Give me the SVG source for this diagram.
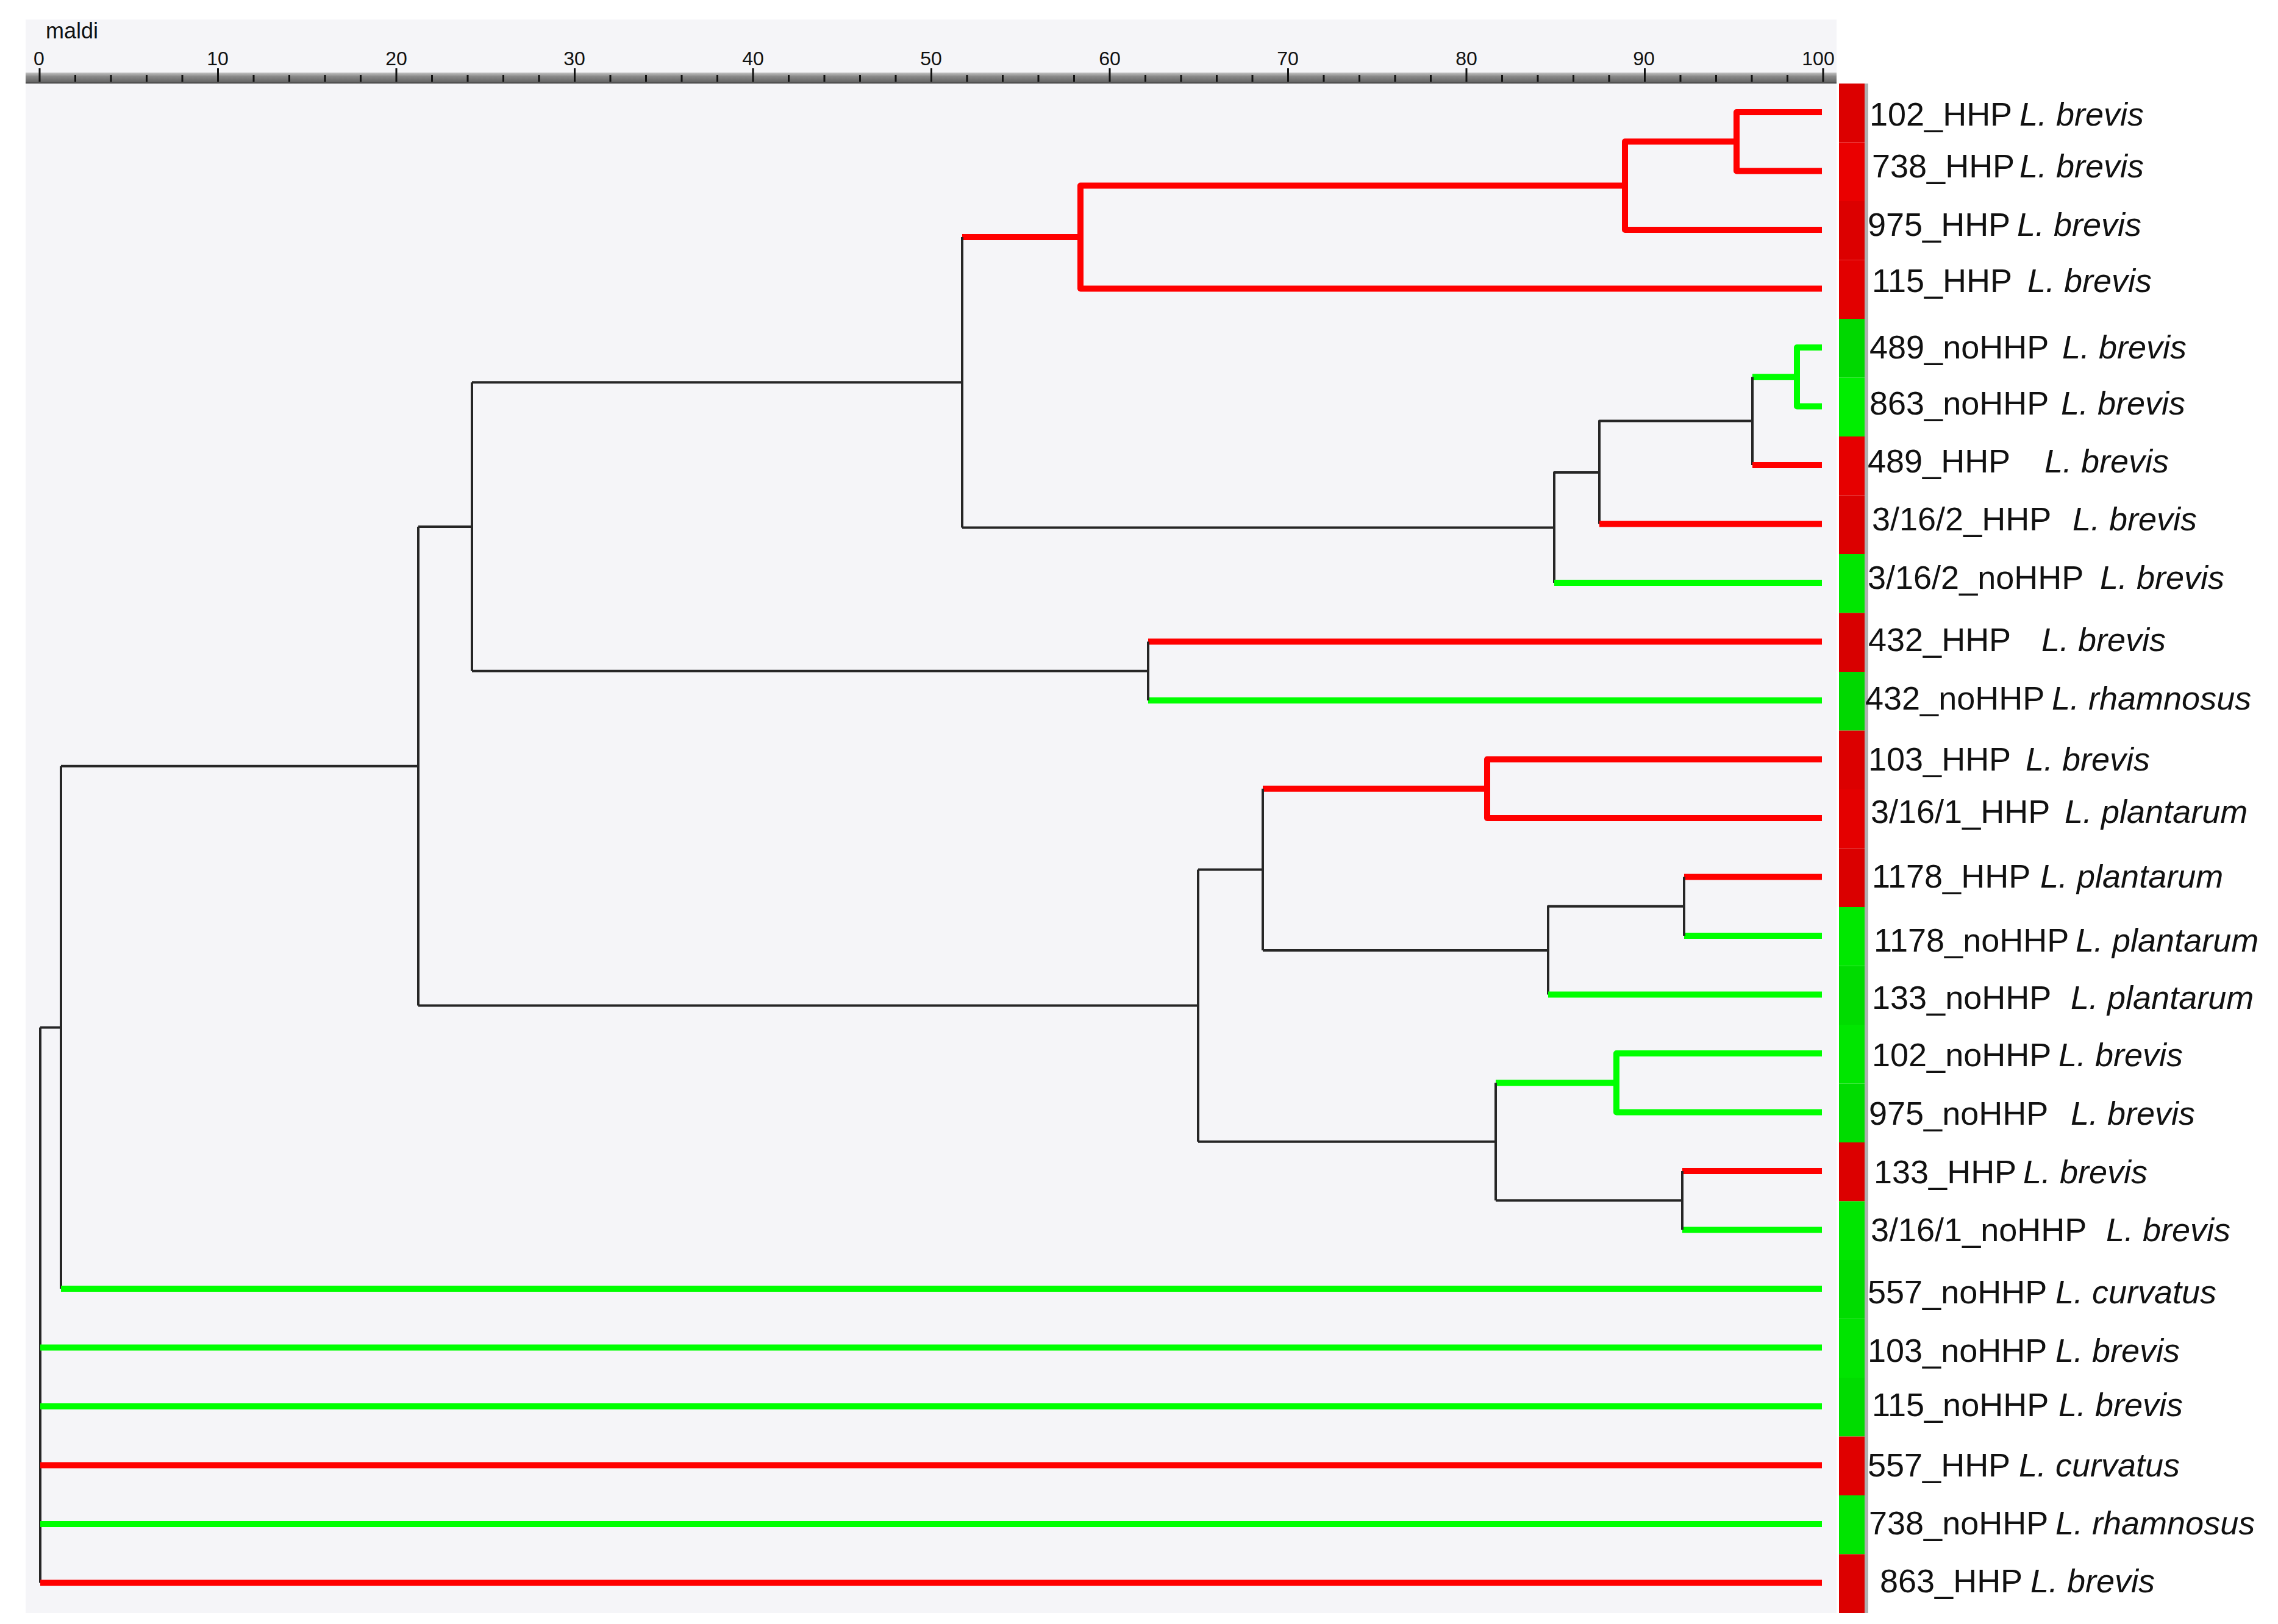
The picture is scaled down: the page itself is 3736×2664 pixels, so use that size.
<svg xmlns="http://www.w3.org/2000/svg" width="3736" height="2664" viewBox="0 0 3736 2664">
<defs>
<linearGradient id="band" x1="0" y1="0" x2="0" y2="1">
<stop offset="0" stop-color="#c4c4c4"/>
<stop offset="0.35" stop-color="#8a8a8a"/>
<stop offset="0.85" stop-color="#666666"/>
<stop offset="1" stop-color="#333333"/>
</linearGradient>
</defs>
<style>
.k{stroke:#262626;stroke-width:4;fill:none;stroke-linejoin:round}
.r{stroke:#ff0000;stroke-width:10;fill:none;stroke-linejoin:round}
.g{stroke:#00ff00;stroke-width:10;fill:none;stroke-linejoin:round}
.tk{stroke:#111;stroke-width:3}
.num{font-family:"Liberation Sans",Arial,sans-serif;font-size:32px;fill:#111;text-anchor:middle}
.lb{font-family:"Liberation Sans",Arial,sans-serif;font-size:54px;fill:#111}
.sp{font-style:italic}
</style>
<rect x="0" y="0" width="3736" height="2664" fill="#ffffff"/>
<rect x="42" y="32" width="2970" height="2614" fill="#f5f5f8"/>
<g id="axis">
<text x="75" y="63" font-family="'Liberation Sans',Arial,sans-serif" font-size="36" fill="#111">maldi</text>
<rect x="42" y="119" width="2970" height="18" fill="url(#band)"/>
<g class="tk">
<line x1="65" y1="112" x2="65" y2="134"/><line x1="123.5" y1="123" x2="123.5" y2="134"/><line x1="182" y1="123" x2="182" y2="134"/><line x1="240.5" y1="123" x2="240.5" y2="134"/><line x1="299" y1="123" x2="299" y2="134"/>
<line x1="357.5" y1="112" x2="357.5" y2="134"/><line x1="416" y1="123" x2="416" y2="134"/><line x1="474.5" y1="123" x2="474.5" y2="134"/><line x1="533" y1="123" x2="533" y2="134"/><line x1="591.5" y1="123" x2="591.5" y2="134"/>
<line x1="650" y1="112" x2="650" y2="134"/><line x1="708.5" y1="123" x2="708.5" y2="134"/><line x1="767" y1="123" x2="767" y2="134"/><line x1="825.5" y1="123" x2="825.5" y2="134"/><line x1="884" y1="123" x2="884" y2="134"/>
<line x1="942.5" y1="112" x2="942.5" y2="134"/><line x1="1001" y1="123" x2="1001" y2="134"/><line x1="1059.5" y1="123" x2="1059.5" y2="134"/><line x1="1118" y1="123" x2="1118" y2="134"/><line x1="1176.5" y1="123" x2="1176.5" y2="134"/>
<line x1="1235" y1="112" x2="1235" y2="134"/><line x1="1293.5" y1="123" x2="1293.5" y2="134"/><line x1="1352" y1="123" x2="1352" y2="134"/><line x1="1410.5" y1="123" x2="1410.5" y2="134"/><line x1="1469" y1="123" x2="1469" y2="134"/>
<line x1="1527.5" y1="112" x2="1527.5" y2="134"/><line x1="1586" y1="123" x2="1586" y2="134"/><line x1="1644.5" y1="123" x2="1644.5" y2="134"/><line x1="1703" y1="123" x2="1703" y2="134"/><line x1="1761.5" y1="123" x2="1761.5" y2="134"/>
<line x1="1820" y1="112" x2="1820" y2="134"/><line x1="1878.5" y1="123" x2="1878.5" y2="134"/><line x1="1937" y1="123" x2="1937" y2="134"/><line x1="1995.5" y1="123" x2="1995.5" y2="134"/><line x1="2054" y1="123" x2="2054" y2="134"/>
<line x1="2112.5" y1="112" x2="2112.5" y2="134"/><line x1="2171" y1="123" x2="2171" y2="134"/><line x1="2229.5" y1="123" x2="2229.5" y2="134"/><line x1="2288" y1="123" x2="2288" y2="134"/><line x1="2346.5" y1="123" x2="2346.5" y2="134"/>
<line x1="2405" y1="112" x2="2405" y2="134"/><line x1="2463.5" y1="123" x2="2463.5" y2="134"/><line x1="2522" y1="123" x2="2522" y2="134"/><line x1="2580.5" y1="123" x2="2580.5" y2="134"/><line x1="2639" y1="123" x2="2639" y2="134"/>
<line x1="2697.5" y1="112" x2="2697.5" y2="134"/><line x1="2756" y1="123" x2="2756" y2="134"/><line x1="2814.5" y1="123" x2="2814.5" y2="134"/><line x1="2873" y1="123" x2="2873" y2="134"/><line x1="2931.5" y1="123" x2="2931.5" y2="134"/>
<line x1="2990" y1="112" x2="2990" y2="134"/>
</g>
<g class="num">
<text x="64" y="107">0</text><text x="357" y="107">10</text><text x="650" y="107">20</text><text x="942" y="107">30</text><text x="1235" y="107">40</text><text x="1527" y="107">50</text><text x="1820" y="107">60</text><text x="2112" y="107">70</text><text x="2405" y="107">80</text><text x="2696" y="107">90</text><text x="2982" y="107">100</text>
</g>
</g>
<g id="connectors">
<path class="r" d="M2988,184 H2848 V280.5 H2988"/>
<path class="r" d="M2848,232.25 H2665 V377 H2988"/>
<path class="r" d="M2665,304.6 H1772 V473.5 H2988"/>
<path class="r" d="M1772,389 H1578"/>
<path class="k" d="M1578,389 V865.5"/>
<path class="g" d="M2988,570 H2947 V666.5 H2988"/>
<path class="g" d="M2947,618.25 H2874"/>
<path class="k" d="M2874,618.25 V763"/>
<path class="r" d="M2874,763 H2988"/>
<path class="k" d="M2874,690.6 H2623 V859.5"/>
<path class="r" d="M2623,859.5 H2988"/>
<path class="k" d="M2623,775 H2549 V956"/>
<path class="g" d="M2549,956 H2988"/>
<path class="k" d="M2549,865.5 H1578"/>
<path class="k" d="M1578,627.25 H774"/>
<path class="r" d="M2988,1052.5 H1883"/>
<path class="g" d="M2988,1149 H1883"/>
<path class="k" d="M1883,1052.5 V1149"/>
<path class="k" d="M1883,1100.75 H774"/>
<path class="k" d="M774,627.25 V1100.75"/>
<path class="k" d="M774,864 H686"/>
<path class="r" d="M2988,1245.5 H2439 V1342 H2988"/>
<path class="r" d="M2439,1293.75 H2071"/>
<path class="r" d="M2988,1438.5 H2762"/>
<path class="g" d="M2988,1535 H2762"/>
<path class="k" d="M2762,1438.5 V1535"/>
<path class="k" d="M2762,1486.75 H2539 V1631.5"/>
<path class="g" d="M2539,1631.5 H2988"/>
<path class="k" d="M2539,1559.1 H2071"/>
<path class="k" d="M2071,1293.75 V1559.1"/>
<path class="k" d="M2071,1426.4 H1965"/>
<path class="g" d="M2988,1728 H2651 V1824.5 H2988"/>
<path class="g" d="M2651,1776.25 H2453"/>
<path class="r" d="M2988,1921 H2759"/>
<path class="g" d="M2988,2017.5 H2759"/>
<path class="k" d="M2759,1921 V2017.5"/>
<path class="k" d="M2759,1969.25 H2453"/>
<path class="k" d="M2453,1776.25 V1969.25"/>
<path class="k" d="M2453,1872.75 H1965"/>
<path class="k" d="M1965,1426.4 V1872.75"/>
<path class="k" d="M1965,1649.6 H686"/>
<path class="k" d="M686,864 V1649.6"/>
<path class="k" d="M686,1256.8 H100"/>
<path class="k" d="M100,1256.8 V2114"/>
<path class="g" d="M100,2114 H2988"/>
<path class="k" d="M100,1685.4 H66"/>
<path class="k" d="M66,1685.4 V2596.5"/>
<path class="g" d="M66,2210.5 H2988"/>
<path class="g" d="M66,2307 H2988"/>
<path class="r" d="M66,2403.5 H2988"/>
<path class="g" d="M66,2500 H2988"/>
<path class="r" d="M66,2596.5 H2988"/>
</g>
<rect x="3058" y="137" width="6" height="2509" fill="#b0b0b0"/>
<g id="leaf-102_HHP"><rect x="3016" y="137" width="42" height="96.5" fill="#dc0000"/><text class="lb" y="206"><tspan x="3066">102_HHP</tspan><tspan class="sp" x="3312">L. brevis</tspan></text></g>
<g id="leaf-738_HHP"><rect x="3016" y="233.5" width="42" height="96.5" fill="#ea0000"/><text class="lb" y="291"><tspan x="3070">738_HHP</tspan><tspan class="sp" x="3312">L. brevis</tspan></text></g>
<g id="leaf-975_HHP"><rect x="3016" y="330" width="42" height="96.5" fill="#dc0000"/><text class="lb" y="387"><tspan x="3063">975_HHP</tspan><tspan class="sp" x="3308">L. brevis</tspan></text></g>
<g id="leaf-115_HHP"><rect x="3016" y="426.5" width="42" height="96.5" fill="#e20000"/><text class="lb" y="479"><tspan x="3070">115_HHP</tspan><tspan class="sp" x="3325">L. brevis</tspan></text></g>
<g id="leaf-489_noHHP"><rect x="3016" y="523" width="42" height="96.5" fill="#00d800"/><text class="lb" y="588"><tspan x="3066">489_noHHP</tspan><tspan class="sp" x="3382">L. brevis</tspan></text></g>
<g id="leaf-863_noHHP"><rect x="3016" y="619.5" width="42" height="96.5" fill="#00ee00"/><text class="lb" y="680"><tspan x="3066">863_noHHP</tspan><tspan class="sp" x="3380">L. brevis</tspan></text></g>
<g id="leaf-489_HHP"><rect x="3016" y="716" width="42" height="96.5" fill="#e60000"/><text class="lb" y="775"><tspan x="3063">489_HHP</tspan><tspan class="sp" x="3353">L. brevis</tspan></text></g>
<g id="leaf-3-16-2_HHP"><rect x="3016" y="812.5" width="42" height="96.5" fill="#dc0000"/><text class="lb" y="870"><tspan x="3070">3/16/2_HHP</tspan><tspan class="sp" x="3399">L. brevis</tspan></text></g>
<g id="leaf-3-16-2_noHHP"><rect x="3016" y="909" width="42" height="96.5" fill="#00e600"/><text class="lb" y="966"><tspan x="3063">3/16/2_noHHP</tspan><tspan class="sp" x="3444">L. brevis</tspan></text></g>
<g id="leaf-432_HHP"><rect x="3016" y="1005.5" width="42" height="96.5" fill="#d80000"/><text class="lb" y="1068"><tspan x="3064">432_HHP</tspan><tspan class="sp" x="3348">L. brevis</tspan></text></g>
<g id="leaf-432_noHHP"><rect x="3016" y="1102" width="42" height="96.5" fill="#00d800"/><text class="lb" y="1164"><tspan x="3059">432_noHHP</tspan><tspan class="sp" x="3365">L. rhamnosus</tspan></text></g>
<g id="leaf-103_HHP"><rect x="3016" y="1198.5" width="42" height="96.5" fill="#dc0000"/><text class="lb" y="1264"><tspan x="3064">103_HHP</tspan><tspan class="sp" x="3322">L. brevis</tspan></text></g>
<g id="leaf-3-16-1_HHP"><rect x="3016" y="1295" width="42" height="96.5" fill="#e40000"/><text class="lb" y="1350"><tspan x="3068">3/16/1_HHP</tspan><tspan class="sp" x="3386">L. plantarum</tspan></text></g>
<g id="leaf-1178_HHP"><rect x="3016" y="1391.5" width="42" height="96.5" fill="#da0000"/><text class="lb" y="1456"><tspan x="3070">1178_HHP</tspan><tspan class="sp" x="3346">L. plantarum</tspan></text></g>
<g id="leaf-1178_noHHP"><rect x="3016" y="1488" width="42" height="96.5" fill="#00e800"/><text class="lb" y="1561"><tspan x="3073">1178_noHHP</tspan><tspan class="sp" x="3404">L. plantarum</tspan></text></g>
<g id="leaf-133_noHHP"><rect x="3016" y="1584.5" width="42" height="96.5" fill="#00dc00"/><text class="lb" y="1655"><tspan x="3070">133_noHHP</tspan><tspan class="sp" x="3396">L. plantarum</tspan></text></g>
<g id="leaf-102_noHHP"><rect x="3016" y="1681" width="42" height="96.5" fill="#00e600"/><text class="lb" y="1749"><tspan x="3070">102_noHHP</tspan><tspan class="sp" x="3376">L. brevis</tspan></text></g>
<g id="leaf-975_noHHP"><rect x="3016" y="1777.5" width="42" height="96.5" fill="#00dc00"/><text class="lb" y="1845"><tspan x="3065">975_noHHP</tspan><tspan class="sp" x="3396">L. brevis</tspan></text></g>
<g id="leaf-133_HHP"><rect x="3016" y="1874" width="42" height="96.5" fill="#dc0000"/><text class="lb" y="1941"><tspan x="3073">133_HHP</tspan><tspan class="sp" x="3318">L. brevis</tspan></text></g>
<g id="leaf-3-16-1_noHHP"><rect x="3016" y="1970.5" width="42" height="96.5" fill="#00e600"/><text class="lb" y="2036"><tspan x="3068">3/16/1_noHHP</tspan><tspan class="sp" x="3454">L. brevis</tspan></text></g>
<g id="leaf-557_noHHP"><rect x="3016" y="2067" width="42" height="96.5" fill="#00dc00"/><text class="lb" y="2138"><tspan x="3063">557_noHHP</tspan><tspan class="sp" x="3371">L. curvatus</tspan></text></g>
<g id="leaf-103_noHHP"><rect x="3016" y="2163.5" width="42" height="96.5" fill="#00e400"/><text class="lb" y="2234"><tspan x="3063">103_noHHP</tspan><tspan class="sp" x="3371">L. brevis</tspan></text></g>
<g id="leaf-115_noHHP"><rect x="3016" y="2260" width="42" height="96.5" fill="#00dc00"/><text class="lb" y="2323"><tspan x="3070">115_noHHP</tspan><tspan class="sp" x="3376">L. brevis</tspan></text></g>
<g id="leaf-557_HHP"><rect x="3016" y="2356.5" width="42" height="96.5" fill="#e00000"/><text class="lb" y="2422"><tspan x="3063">557_HHP</tspan><tspan class="sp" x="3311">L. curvatus</tspan></text></g>
<g id="leaf-738_noHHP"><rect x="3016" y="2453" width="42" height="96.5" fill="#00e400"/><text class="lb" y="2517"><tspan x="3065">738_noHHP</tspan><tspan class="sp" x="3371">L. rhamnosus</tspan></text></g>
<g id="leaf-863_HHP"><rect x="3016" y="2549.5" width="42" height="96.5" fill="#dc0000"/><text class="lb" y="2612"><tspan x="3083">863_HHP</tspan><tspan class="sp" x="3330">L. brevis</tspan></text></g>
</svg>
